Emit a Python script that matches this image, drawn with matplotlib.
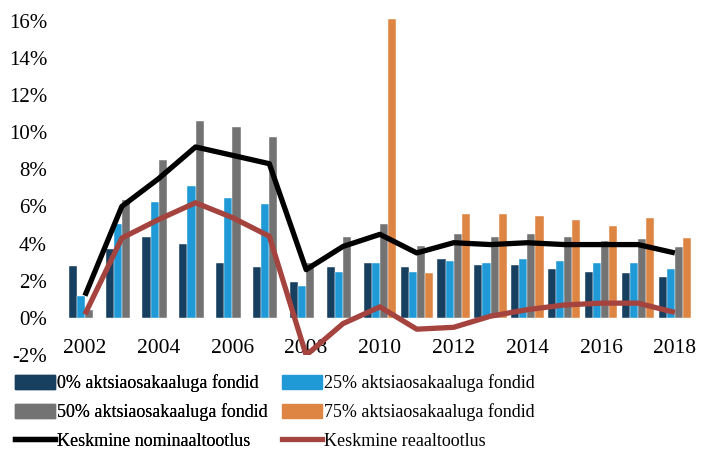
import matplotlib.pyplot as plt
import matplotlib.patches as mpatches
from matplotlib.lines import Line2D
import numpy as np

plt.rcParams['font.family'] = ['Liberation Serif', 'DejaVu Serif']

years = list(range(2002, 2019))
fund_0 = [2.8, 3.7, 4.35, 4.0, 2.95, 2.75, 1.95, 2.75, 2.95, 2.75, 3.2, 2.85, 2.85, 2.65, 2.5, 2.4, 2.2]
fund_25 = [1.2, 5.05, 6.25, 7.1, 6.45, 6.15, 1.7, 2.5, 2.95, 2.5, 3.05, 2.95, 3.2, 3.05, 2.95, 2.95, 2.65]
fund_50 = [0.45, 6.35, 8.5, 10.6, 10.3, 9.75, 2.95, 4.35, 5.05, 3.9, 4.5, 4.35, 4.5, 4.35, 4.15, 4.25, 3.8]
fund_75 = [0, 0, 0, 0, 0, 0, 0, 0, 16.1, 2.4, 5.6, 5.6, 5.5, 5.25, 4.95, 5.4, 4.3]
nominal = [1.2, 6.0, 7.5, 9.2, 8.75, 8.3, 2.6, 3.85, 4.5, 3.5, 4.05, 3.95, 4.05, 3.95, 3.95, 3.95, 3.5]
real = [0.2, 4.3, 5.3, 6.2, 5.4, 4.4, -2.0, -0.3, 0.6, -0.6, -0.5, 0.1, 0.45, 0.7, 0.8, 0.8, 0.3]

labels = ['0% aktsiaosakaaluga fondid', '25% aktsiaosakaaluga fondid',
          '50% aktsiaosakaaluga fondid', '75% aktsiaosakaaluga fondid',
          'Keskmine nominaaltootlus', 'Keskmine reaaltootlus']
colors = ['#173F5F', '#1F9AD6', '#737373', '#DE8543']
line_colors = ['#000000', '#A5433F']

fig = plt.figure(figsize=(7.06, 4.54), dpi=100)
ax = fig.add_axes([0.0942, 0.2176, 0.8878, 0.7454])

x = np.arange(len(years))
w = 0.22
for k, vals in enumerate([fund_0, fund_25, fund_50, fund_75]):
    ax.bar(x + (k - 1.5) * w, vals, width=w, color=colors[k],
           edgecolor='white', linewidth=0.3, clip_on=False)

ax.plot(x, nominal, color=line_colors[0], lw=3.8, solid_capstyle='butt')
ax.plot(x, real, color=line_colors[1], lw=3.8, solid_capstyle='butt')

# axis crosses at zero, like the original spreadsheet chart
for s in ax.spines.values():
    s.set_visible(False)
ax.spines['bottom'].set_position(('data', 0))

ax.set_xlim(-0.5, len(years) - 0.5)
ax.set_ylim(-2, 16.2)
ax.set_yticks(range(-2, 17, 2))
ax.set_yticklabels([f'{v}%' for v in range(-2, 17, 2)], fontsize=15)
ax.set_xticks(x[::2])
ax.set_xticklabels([str(y) for y in years[::2]], fontsize=15.5)
ax.tick_params(axis='both', length=0)
ax.tick_params(axis='x', pad=15)
ax.tick_params(axis='y', pad=14)

bar_handles = [mpatches.Patch(color=c) for c in colors]
line_handles = [Line2D([], [], color=c, lw=3.8) for c in line_colors]
opts = dict(frameon=False, fontsize=13, handlelength=2.2, handleheight=0.8,
            handletextpad=0.15, labelspacing=0.64, borderpad=0,
            borderaxespad=0, loc='upper left')
leg1 = fig.legend([bar_handles[0], bar_handles[2], line_handles[0]],
                  [labels[0], labels[2], labels[4]],
                  bbox_to_anchor=(15 / 706, 1 - 374 / 454), **opts)
fig.add_artist(leg1)
fig.legend([bar_handles[1], bar_handles[3], line_handles[1]],
           [labels[1], labels[3], labels[5]],
           bbox_to_anchor=(282 / 706, 1 - 374 / 454), **opts)

fig.savefig('out.png', dpi=100)
